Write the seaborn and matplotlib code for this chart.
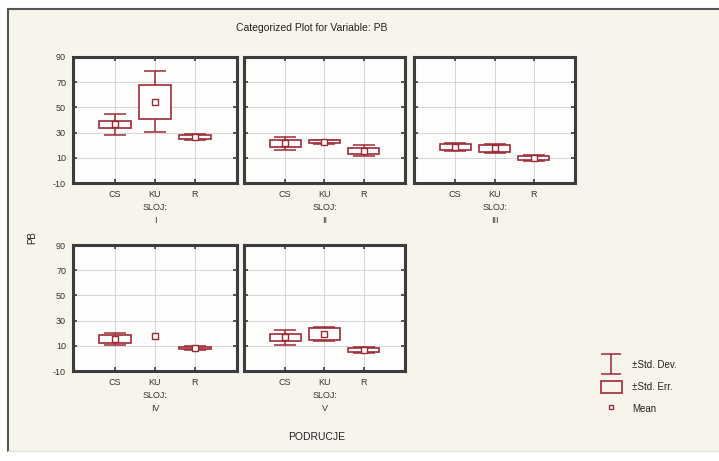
import numpy as np
import pandas as pd
import matplotlib
matplotlib.use("Agg")
import matplotlib.pyplot as plt
import seaborn as sns
from matplotlib.lines import Line2D
from matplotlib.patches import Rectangle, Patch
from matplotlib.path import Path

# ---------------- data ----------------
categories = ["CS", "KU", "R"]
layers = ["I", "II", "III", "IV", "V"]
means = {
    "I":   [36.5, 54.4, 26.5],
    "II":  [21.4, 22.6, 15.5],
    "III": [18.7, 17.4, 9.9],
    "IV":  [15.3, 18.0, 8.1],
    "V":   [16.7, 19.3, 6.5],
}
std_dev = {
    "I":   [8.3, 24.3, 2.0],
    "II":  [5.0, 1.8, 4.3],
    "III": [3.2, 3.2, 2.5],
    "IV":  [5.0, 0.0, 1.5],
    "V":   [6.0, 5.5, 2.5],
}
std_err = {
    "I":   [3.0, 13.7, 1.6],
    "II":  [2.5, 1.2, 2.4],
    "III": [2.2, 2.5, 1.6],
    "IV":  [3.0, 0.0, 1.0],
    "V":   [3.0, 4.5, 1.5],
}
y_ticks = [-10, 10, 30, 50, 70, 90]

RED = "#9e2a36"
BG = "#f7f4ec"
FRAME = "#3c3c3c"

sns.set_theme(style="white")
plt.rcParams["font.family"] = ["Liberation Sans", "DejaVu Sans"]
plt.rcParams["axes.unicode_minus"] = False

W, H = 719, 461
fig = plt.figure(figsize=(W / 100, H / 100), dpi=100)
fig.patch.set_facecolor("white")
fig.add_artist(Rectangle((8 / W, 1 - 451 / H), 1 - 8 / W, (451 - 9) / H,
                         transform=fig.transFigure, facecolor=BG,
                         edgecolor="none", zorder=-10))
fig.add_artist(Line2D([8 / W, 1], [1 - 9 / H, 1 - 9 / H], transform=fig.transFigure,
                      color="#555555", lw=1.5))
fig.add_artist(Line2D([8 / W, 8 / W], [1 - 451 / H, 1 - 9 / H], transform=fig.transFigure,
                      color="#555555", lw=1.5))
fig.add_artist(Line2D([8 / W, 1], [1 - 451 / H, 1 - 451 / H], transform=fig.transFigure,
                      color="#e4e1da", lw=1.0))

col_left = [73, 244, 414]
col_w = [164, 161, 161]
row_top = [57, 245]
row_h = 126

positions = {"I": (0, 0), "II": (0, 1), "III": (0, 2), "IV": (1, 0), "V": (1, 1)}

for layer in layers:
    r, c = positions[layer]
    left = col_left[c] / W
    bottom = 1 - (row_top[r] + row_h) / H
    ax = fig.add_axes([left, bottom, col_w[c] / W, row_h / H])
    ax.set_facecolor("#fdfdfc")
    df = pd.DataFrame({"x": np.arange(len(categories)), "cat": categories,
                       "mean": means[layer], "sd": std_dev[layer], "se": std_err[layer]})
    d_sd = df[df["sd"] > 0]
    d_se = df[df["se"] > 0]
    # SD whiskers
    ax.errorbar(d_sd["x"], d_sd["mean"], yerr=d_sd["sd"], fmt="none", ecolor=RED,
                elinewidth=1.1, capsize=8, capthick=1.1, zorder=3)
    # SE boxes
    ax.bar(d_se["x"], 2 * d_se["se"], bottom=d_se["mean"] - d_se["se"], width=0.8,
           facecolor="white", edgecolor=RED, linewidth=1.2, zorder=4)
    # means
    sns.scatterplot(x=df["x"], y=df["mean"], ax=ax, marker="s", s=14,
                    facecolor="white", edgecolor=RED, linewidth=1.0, zorder=5)
    ax.set_xlim(-1.05, 3.05)
    ax.set_ylim(-10, 90)
    ax.set_xticks(df["x"])
    ax.set_xticklabels(categories)
    ax.set_yticks(y_ticks)
    ax.grid(True, color="#cfcfd4", lw=0.6, zorder=0)
    ax.set_axisbelow(True)
    ax.tick_params(axis="both", which="both", direction="in", length=3, width=1.2,
                   color=FRAME, top=True, right=True, bottom=True, left=True,
                   labelsize=6.5, labelcolor="#333333", pad=5)
    if c != 0:
        ax.tick_params(labelleft=False)
    for s in ax.spines.values():
        s.set_color(FRAME)
        s.set_linewidth(2.2)
    ax.set_xlabel("SLOJ:\n" + layer, fontsize=6.5, color="#333333",
                  linespacing=1.6, labelpad=3)
    ax.set_ylabel("")

fig.text(312 / W, 1 - 28 / H, "Categorized Plot for Variable: PB", ha="center",
         va="center", fontsize=7.5, color="#222222")
fig.text(32 / W, 1 - 238 / H, "PB", rotation=90, ha="center", va="center",
         fontsize=7, color="#222222")
fig.text(317 / W, 1 - 437 / H, "PODRUCJE", ha="center", va="center",
         fontsize=7.5, color="#222222")

# legend
ibeam = Path([(-1, 1), (1, 1), (0, 1), (0, -1), (-1, -1), (1, -1)],
             [Path.MOVETO, Path.LINETO, Path.MOVETO, Path.LINETO, Path.MOVETO, Path.LINETO])
h_sd = Line2D([], [], linestyle="none", marker=ibeam, markersize=14,
              markerfacecolor="none", markeredgecolor=RED, markeredgewidth=1.1)
h_se = Patch(facecolor="none", edgecolor=RED, linewidth=1.2)
h_mean = Line2D([], [], linestyle="none", marker="s", markersize=3.5,
                markerfacecolor="white", markeredgecolor=RED, markeredgewidth=1.0)
fig.legend([h_sd, h_se, h_mean], ["±Std. Dev.", "±Std. Err.", "Mean"],
           loc="center left", bbox_to_anchor=(592 / W, 1 - 387 / H),
           frameon=False, fontsize=7, handlelength=2.2, handleheight=1.6,
           labelspacing=0.95, handletextpad=1.0, labelcolor="#222222")

fig.savefig("out.png", dpi=100, facecolor=fig.get_facecolor())
